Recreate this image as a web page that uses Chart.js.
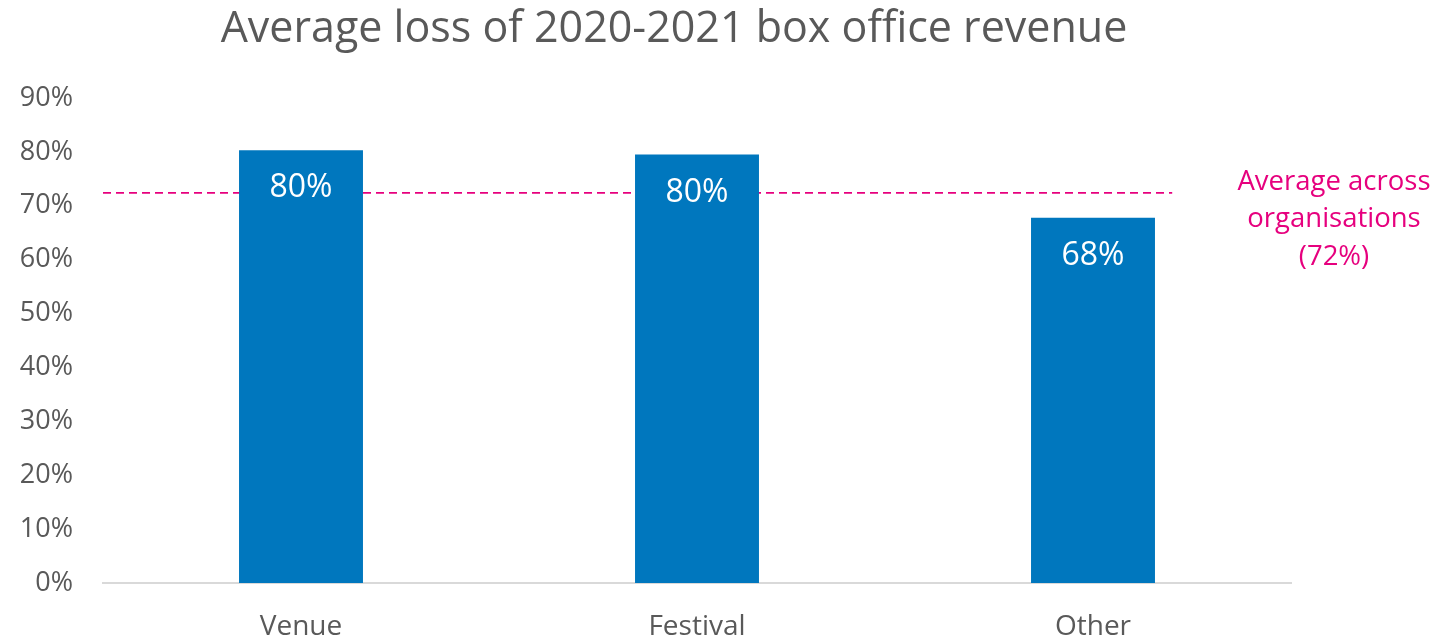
<!DOCTYPE html>
<html>
<head>
<meta charset="utf-8">
<script src="https://cdn.jsdelivr.net/npm/chart.js@4"></script>
<style>
  html, body { margin:0; padding:0; background:#fff; }
  #wrap { width:1455px; height:638px; }
</style>
</head>
<body>
<div id="wrap"><canvas id="chart" width="1455" height="638"></canvas></div>
<script>
// chart data
const categories = ['Venue', 'Festival', 'Other'];
const lossValues = [80.3, 79.5, 67.8];
const averageLoss = 72.4;
const yTicks = [0, 10, 20, 30, 40, 50, 60, 70, 80, 90];
const titleText = 'Average loss of 2020-2021 box office revenue';
const avgLabelLines = ['Average across', 'organisations', '(' + Math.round(averageLoss) + '%)'];

const FONT = "'Open Sans', 'Noto Sans', sans-serif";
const GREY = '#595959';
const BLUE = '#0077BE';
const PINK = '#E6007E';

// average dashed line sits behind the bars
const avgLine = {
  id: 'avgLine',
  beforeDatasetsDraw(chart){
    const ctx = chart.ctx;
    const x = chart.scales.x, y = chart.scales.y;
    const ay = y.getPixelForValue(averageLoss);
    const step = x.getPixelForValue(1) - x.getPixelForValue(0);
    const endX = x.getPixelForValue(categories.length - 1) + step * 0.2;
    ctx.save();
    ctx.strokeStyle = PINK;
    ctx.lineWidth = 1.8;
    ctx.setLineDash([8, 5]);
    ctx.beginPath();
    ctx.moveTo(chart.chartArea.left, ay);
    ctx.lineTo(endX, ay);
    ctx.stroke();
    ctx.restore();
  }
};

// title, value labels, average label
const extras = {
  id: 'extras',
  afterDatasetsDraw(chart){
    const ctx = chart.ctx;
    const y = chart.scales.y;
    ctx.save();
    ctx.textAlign = 'center';

    ctx.textBaseline = 'alphabetic';
    ctx.fillStyle = GREY;
    ctx.font = '43px ' + FONT;
    ctx.fillText(titleText, 674, 42);

    ctx.textBaseline = 'middle';
    const meta = chart.getDatasetMeta(0);
    ctx.fillStyle = '#fff';
    ctx.font = '32px ' + FONT;
    meta.data.forEach((bar, i)=>{
      ctx.fillText(Math.round(lossValues[i]) + '%', bar.x, bar.y + 38);
    });

    const ay = y.getPixelForValue(averageLoss);
    ctx.fillStyle = PINK;
    ctx.font = '27.5px ' + FONT;
    avgLabelLines.forEach((t, i)=>{
      ctx.fillText(t, 1334, ay - 11 + i * 37.5);
    });
    ctx.restore();
  }
};

new Chart(document.getElementById('chart'), {
  type: 'bar',
  data: {
    labels: categories,
    datasets: [{
      data: lossValues,
      backgroundColor: BLUE,
      borderWidth: 0,
      categoryPercentage: 1,
      barPercentage: 0.313
    }]
  },
  options: {
    responsive: false,
    animation: false,
    layout: { padding: { top: 98, right: 164, left: 0, bottom: 0 } },
    plugins: { legend: { display:false }, tooltip: { enabled:false }, title: { display:false } },
    scales: {
      x: {
        grid: { display:false },
        border: { display:true, color:'#d9d9d9', width:2 },
        ticks: { color: GREY, font: { family: FONT, size: 28 }, padding: 19 },
        afterFit(s){ s.height = 55; }
      },
      y: {
        min: 0, max: 90,
        afterBuildTicks(s){ s.ticks = yTicks.map(v=>({ value: v })); },
        grid: { display:false, drawTicks:false },
        border: { display:false },
        ticks: { color: GREY, font: { family: FONT, size: 27 }, padding: 30, callback: v=>v + '%' },
        afterFit(s){ s.width = 103; }
      }
    }
  },
  plugins: [avgLine, extras]
});
</script>
</body>
</html>
